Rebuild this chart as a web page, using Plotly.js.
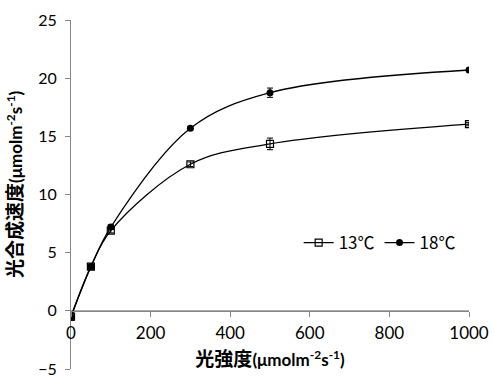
<!DOCTYPE html>
<html><head><meta charset="utf-8">
<script src="https://cdn.plot.ly/plotly-3.0.1.min.js"></script>
<style>html,body{margin:0;padding:0;background:#fff}#c{width:494px;height:379px}</style>
</head><body><div id="c"></div>
<script>
const light = [0, 50, 100, 300, 500, 1000];
const rate13 = [-0.5, 3.8, 6.9, 12.6, 14.35, 16.05];
const err13 = [0.3, 0.2, 0.2, 0.2, 0.5, 0.15];
const rate18 = [-0.5, 3.8, 7.2, 15.7, 18.75, 20.7];
const err18 = [0.3, 0.2, 0.2, 0.15, 0.4, 0.15];
const names = ['13℃', '18℃'];
const xTitle = '光強度<span style="font-size:17px">(μmolm<sup>-2</sup>s<sup>-1</sup>)</span>';
const yTitle = '光合成速度<span style="font-size:17px">(μmolm<sup>-2</sup>s<sup>-1</sup>)</span>';

const FONT = 'Lato, "Noto Sans CJK JP", sans-serif';
const LFONT = '"Noto Sans CJK JP", Lato, sans-serif';
const traces = [
  {x: light, y: rate13, name: names[0], type: 'scatter', mode: 'lines+markers',
   line: {color: '#000', width: 1.3, shape: 'spline'},
   marker: {symbol: 'square-open', size: 7, color: '#000', line: {width: 1.2, color: '#000'}},
   error_y: {type: 'data', array: err13, visible: true, color: '#000', thickness: 1, width: 3}},
  {x: light, y: rate18, name: names[1], type: 'scatter', mode: 'lines+markers',
   line: {color: '#000', width: 1.3, shape: 'spline'},
   marker: {symbol: 'circle', size: 7, color: '#000'},
   error_y: {type: 'data', array: err18, visible: true, color: '#000', thickness: 1, width: 3}}
];
const PT = 20, PB = 369, PH = PB - PT;
const layout = {
  width: 494, height: 379,
  margin: {l: 71, r: 25, t: PT, b: 379 - PB},
  paper_bgcolor: '#fff', plot_bgcolor: '#fff',
  font: {family: FONT, size: 17, color: '#000'},
  showlegend: true,
  legend: {orientation: 'h', x: 0.572, y: (PB - 243) / PH, xanchor: 'left', yanchor: 'middle',
    font: {family: LFONT, size: 17, color: '#000'}, bgcolor: 'rgba(0,0,0,0)', itemwidth: 30, tracegroupgap: 0},
  xaxis: {range: [0, 1000], dtick: 200, anchor: 'free', position: 5/30,
    showgrid: false, zeroline: false, showline: true, linecolor: '#868686', linewidth: 1,
    ticks: 'outside', ticklen: 5, tickcolor: '#868686', automargin: false,
    tickfont: {family: FONT, size: 17}, ticklabelstandoff: 2,
    title: {text: xTitle, standoff: 10, font: {family: FONT, size: 19, weight: 'bold'}}},
  yaxis: {range: [-5, 25], dtick: 5,
    showgrid: false, zeroline: false, showline: true, linecolor: '#868686', linewidth: 1,
    ticks: 'outside', ticklen: 5, tickcolor: '#868686', automargin: false,
    tickfont: {family: FONT, size: 16}, ticklabelstandoff: 5, ticklabeloverflow: 'allow',
    title: {text: ''}},
  annotations: [{text: yTitle, xref: 'paper', yref: 'paper', x: -71/398, y: (PB - 184) / PH,
    xanchor: 'center', yanchor: 'middle', xshift: 15, textangle: -90, showarrow: false,
    font: {family: FONT, size: 19, weight: 'bold', color: '#000'}}],
  shapes: [{type: 'line', xref: 'paper', yref: 'y', x0: 0, x1: 1, y0: 0, y1: 0,
    line: {color: '#868686', width: 1}, layer: 'below'}]
};
Plotly.newPlot('c', traces, layout, {staticPlot: true, displayModeBar: false});
</script></body></html>
